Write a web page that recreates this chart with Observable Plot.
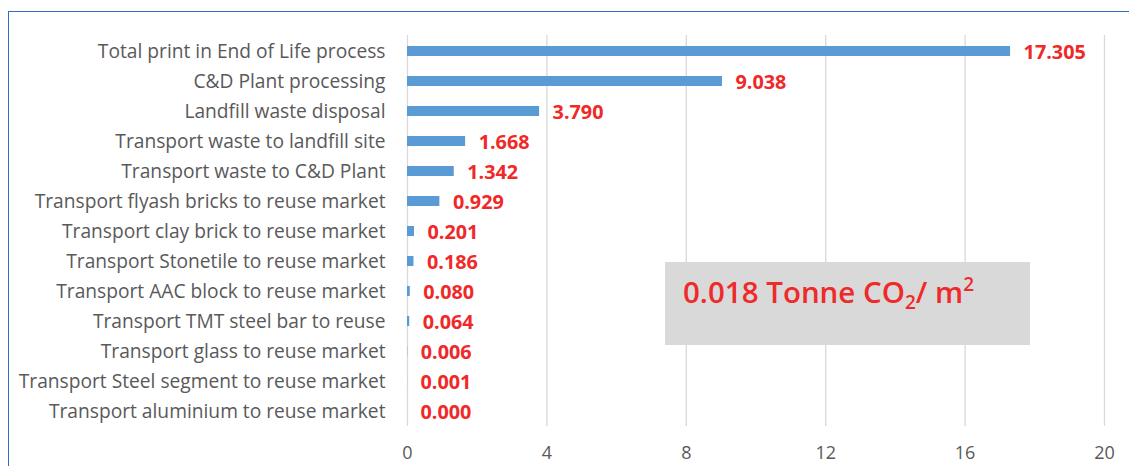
<!DOCTYPE html>
<html><head><meta charset="utf-8">
<script src="https://cdn.jsdelivr.net/npm/d3@7"></script>
<script src="https://cdn.jsdelivr.net/npm/@observablehq/plot@0.6"></script>
<style>
body{margin:0;background:#fff;}
#wrap{position:relative;width:1129px;height:466px;overflow:hidden;background:#fff;}
#frame{position:absolute;left:8px;top:11px;width:1300px;height:700px;border-left:1.5px solid #2f6cc0;border-top:1.5px solid #2f6cc0;}
#chart{position:absolute;left:0;top:0;}
#note{position:absolute;left:665px;top:262px;width:365px;height:83px;background:#d9d9d9;}
#note div{position:absolute;left:18px;top:9px;font-family:"Open Sans",sans-serif;font-size:29.5px;font-weight:600;color:#ee2a2a;white-space:nowrap;}
#note sub{font-size:19px;vertical-align:-6px;line-height:0;}
#note sup{font-size:19px;vertical-align:12px;line-height:0;}
</style></head>
<body>
<div id="wrap">
  <div id="frame"></div>
  <div id="chart"></div>
  <div id="note"><div>0.018 Tonne CO<sub>2</sub>/ m<sup>2</sup></div></div>
</div>
<script>
const categories = [
  "Total print in End of Life process",
  "C&D Plant processing",
  "Landfill waste disposal",
  "Transport waste to landfill site",
  "Transport waste to C&D Plant",
  "Transport flyash bricks to reuse market",
  "Transport clay brick to reuse market",
  "Transport Stonetile to reuse market",
  "Transport AAC block to reuse market",
  "Transport TMT steel bar to reuse",
  "Transport glass to reuse market",
  "Transport Steel segment to reuse market",
  "Transport aluminium to reuse market"
];
const values = [17.305, 9.038, 3.790, 1.668, 1.342, 0.929, 0.201, 0.186, 0.080, 0.064, 0.006, 0.001, 0.000];
const xTicks = [0, 4, 8, 12, 16, 20];

const rows = categories.map((c, i) => ({category: c, value: values[i]}));
const fmt = d3.format(".3f");

const chart = Plot.plot({
  width: 1129,
  height: 466,
  marginLeft: 407,
  marginRight: 25,
  marginTop: 35,
  marginBottom: 40,
  style: {fontFamily: "'Open Sans', sans-serif", background: "transparent", color: "#595959"},
  x: {domain: [0, 20], label: null},
  y: {domain: categories, paddingInner: 0.67, paddingOuter: 0.335, label: null},
  marks: [
    Plot.gridX(xTicks, {stroke: "#d9d9d9", strokeOpacity: 1, strokeWidth: 1.3}),
    Plot.barX(rows, {x: "value", y: "category", fill: "#5b9bd5"}),
    Plot.text(rows, {x: "value", y: "category", text: d => fmt(d.value), textAnchor: "start", dx: 13, dy: 1, fill: "#f02828", fontWeight: "bold", fontSize: 19.8}),
    Plot.axisX(xTicks, {tickSize: 0, tickPadding: 20, fontSize: 18, fill: "#595959", label: null}),
    Plot.axisY({tickSize: 0, tickPadding: 22, fontSize: 19.2, fill: "#595959", label: null})
  ]
});
document.getElementById("chart").appendChild(chart);
</script>
</body></html>
